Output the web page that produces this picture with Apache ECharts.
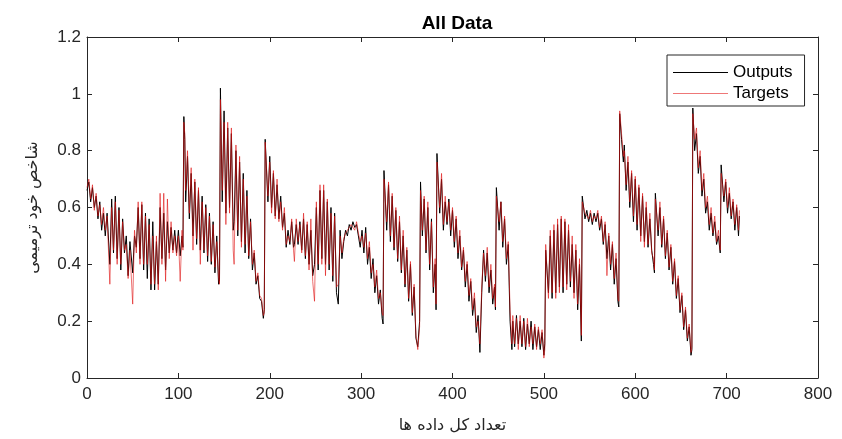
<!DOCTYPE html>
<html><head><meta charset="utf-8">
<script src="https://cdn.jsdelivr.net/npm/echarts@6/dist/echarts.min.js"></script>
<style>html,body{margin:0;padding:0;background:#fff}#c{width:842px;height:439px}</style>
</head><body><div id="c"></div>
<script>
// sample index (x) of each read point
const xs = [
 0,2,4,6,8,10,12,14,16,18, 20,22,25,27,29,31,33,35,37,39, 41,43,45,47,50,52,54,56,58,60, 62,64,66,68,70,72,74,76,78,80, 82,84,86,88,90,92,94,96,98,100, 102,104,105,
 106,107,108,110,112,114,116,118,120,122, 124,126,128,130,132,134,136,138,140,142, 144,145,
 146,148,150,152,154,156,158,160,161,163, 165,167,169,171,173,175,177,179,181,183, 185,187,189,191,193,194,
 195,198,200,202,204,206,208,210,212,214, 216,218,220,222,224,226,227,229,231,233, 235,237,239,241,243,245,247,249,251,253, 255,257,259,261,263,265,267,269,271,273, 275,277,279,
 281,283,285,287,289,291,293,295,297,299, 301,303,305,307,309,311,313,315,317,319, 321,323,324,
 325,328,330,332,334,336,338,340,342,344, 346,348,350,352,354,356,358,360,362,364,
 365,367,369,371,373,375,377,379,381,382,
 383,386,388,390,392,394,396,398,400,402, 404,406,408,410,412,414,416,418,420,422, 424,426,428,430,432,434,436,438,440,442, 444,446,447,
 448,451,453,455,457,459,461,463,465,466, 468,470,472,474,476,478,480,482,484,486, 488,490,492,494,496,498,500,501,
 502,505,507,509,511,513,515,517,519,521, 523,525,527,529,531,533,535,537,539,541,
 542,545,547,549,551,553,555,557,559,561, 563,565,567,569,571,573,575,577,579,581, 582,
 583,585,587,588,590,592,594,596,598,600, 602,604,606,608,610,612,614,616,618,620, 621,
 622,625,627,629,631,633,635,637,639,641, 643,645,647,649,651,653,655,657,659,661, 662,
 663,665,667,669,671,673,675,677,679,681, 683,685,687,689,691,693,
 694,697,699,701,703,705,707,709,711,713, 714
];
const outputs = [
 .66,.69,.62,.67,.60,.64,.56,.62,.52,.58, .50,.58,.40,.63,.44,.64,.42,.60,.38,.56, .44,.50,.36,.48,.37,.50,.46,.60,.42,.61, .38,.58,.35,.56,.31,.55,.31,.48,.33,.60, .42,.58,.38,.55,.44,.53,.45,.52,.44,.52, .43,.50,.46,
 .92,.84,.62,.78,.56,.72,.50,.69,.47,.66, .45,.64,.44,.61,.41,.58,.40,.55,.37,.50, .33,.34,
 1.02,.62,.94,.58,.88,.60,.86,.52,.55,.80, .50,.76,.48,.72,.44,.66,.42,.56,.38,.44, .33,.36,.28,.27,.21,.24,
 .84,.62,.78,.60,.72,.57,.68,.56,.64,.53, .58,.46,.52,.47,.55,.46,.47,.54,.47,.55, .45,.56,.42,.54,.40,.52,.36,.40,.60,.38, .66,.42,.66,.40,.62,.38,.60,.34,.58,.30, .26,.52,.42,
 .48,.52,.50,.54,.52,.55,.53,.54,.50,.46, .52,.44,.53,.40,.46,.35,.42,.30,.36,.26, .31,.21,.19,
 .73,.52,.68,.48,.64,.45,.59,.41,.55,.37, .50,.32,.45,.27,.40,.22,.32,.14,.11,.20,
 .69,.50,.63,.44,.60,.38,.56,.30,.40,.24,
 .79,.58,.70,.52,.62,.54,.63,.50,.59,.46, .56,.42,.50,.38,.45,.32,.40,.27,.34,.22, .28,.16,.22,.09,.30,.45,.34,.44,.30,.38, .26,.32,.24,
 .67,.52,.62,.46,.56,.40,.47,.20,.10,.20, .11,.22,.12,.20,.11,.21,.10,.19,.12,.20, .10,.18,.11,.17,.10,.16,.08,.12,
 .45,.30,.50,.28,.52,.30,.54,.32,.56,.30, .55,.33,.52,.32,.47,.30,.45,.24,.40,.13,
 .64,.56,.59,.55,.58,.54,.58,.55,.58,.52, .56,.47,.54,.42,.50,.38,.47,.33,.42,.27, .25,
 .93,.84,.76,.82,.66,.76,.60,.72,.55,.70, .52,.67,.50,.64,.48,.60,.46,.56,.45,.40, .37,
 .65,.50,.60,.46,.56,.42,.51,.38,.46,.33, .41,.28,.35,.23,.29,.17,.24,.13,.18,.08, .10,
 .95,.80,.86,.72,.78,.64,.70,.58,.62,.52, .58,.50,.55,.47,.50,.44,
 .75,.62,.69,.58,.65,.56,.62,.52,.60,.50, .57
];
const targets = [
 .67,.70,.63,.68,.59,.65,.57,.61,.54,.60, .52,.57,.33,.60,.45,.62,.40,.59,.40,.55, .45,.47,.35,.45,.26,.52,.44,.62,.40,.62, .40,.57,.40,.54,.33,.50,.33,.50,.31,.65, .40,.65,.34,.63,.42,.55,.44,.50,.43,.50, .34,.52,.45,
 .90,.86,.66,.80,.58,.74,.45,.70,.49,.67, .40,.62,.45,.60,.43,.57,.41,.54,.39,.48, .35,.33,
 .98,.66,.90,.54,.90,.58,.88,.45,.40,.82, .52,.78,.46,.70,.47,.64,.43,.55,.40,.45, .34,.37,.29,.28,.22,.23,
 .83,.64,.76,.58,.73,.56,.70,.55,.62,.52, .60,.47,.50,.48,.56,.45,.41,.56,.48,.54, .44,.58,.43,.55,.38,.56,.34,.27,.62,.40, .68,.40,.68,.36,.63,.40,.58,.36,.57,.32, .33,.50,.44,
 .49,.51,.52,.53,.54,.54,.52,.55,.51,.48, .50,.46,.51,.42,.48,.37,.40,.32,.38,.28, .30,.23,.22,
 .70,.55,.69,.50,.65,.46,.60,.42,.57,.38, .52,.33,.46,.28,.41,.23,.33,.15,.10,.18,
 .66,.52,.64,.45,.62,.40,.55,.32,.42,.26,
 .76,.60,.72,.54,.64,.55,.62,.52,.60,.48, .57,.44,.52,.39,.46,.34,.41,.29,.35,.24, .30,.18,.20,.12,.32,.44,.36,.46,.32,.40, .28,.33,.25,
 .64,.55,.62,.48,.57,.42,.48,.24,.12,.22, .12,.21,.10,.22,.12,.20,.11,.21,.11,.18, .12,.19,.10,.18,.12,.17,.07,.10,
 .47,.28,.52,.30,.54,.28,.56,.30,.57,.32, .56,.31,.54,.34,.50,.28,.47,.26,.42,.15,
 .62,.58,.57,.56,.59,.55,.57,.56,.59,.53, .57,.48,.55,.36,.51,.40,.48,.35,.44,.28, .27,
 .94,.86,.78,.80,.68,.78,.62,.73,.57,.71, .54,.68,.48,.65,.46,.62,.47,.58,.44,.42, .38,
 .63,.52,.62,.47,.57,.43,.52,.39,.47,.34, .42,.29,.36,.24,.30,.18,.25,.14,.19,.09, .11,
 .93,.84,.88,.74,.80,.66,.72,.60,.64,.54, .60,.51,.57,.48,.52,.45,
 .72,.64,.70,.60,.67,.57,.63,.54,.61,.52, .59
];
const xTicks = [0,100,200,300,400,500,600,700,800];
const yTicks = [0,0.2,0.4,0.6,0.8,1,1.2];
const seriesNames = ['Outputs','Targets'];

const FONT = '"Liberation Sans", Arial, "DejaVu Sans", sans-serif';
const AX = '#262626';
const outData = xs.map((x,i)=>[x, outputs[i]]);
const tgtData = xs.map((x,i)=>[x, targets[i]]);

const chart = echarts.init(document.getElementById('c'), null, {renderer:'canvas'});
const baseX = {type:'value', min:xTicks[0], max:xTicks[xTicks.length-1], interval:100,
  splitLine:{show:false}, axisLine:{show:true, onZero:false, lineStyle:{color:AX,width:1}},
  axisTick:{show:true, inside:true, length:5, lineStyle:{color:AX}}};
const baseY = {type:'value', min:yTicks[0], max:yTicks[yTicks.length-1], interval:0.2,
  splitLine:{show:false}, axisLine:{show:true, onZero:false, lineStyle:{color:AX,width:1}},
  axisTick:{show:true, inside:true, length:5, lineStyle:{color:AX}}};
chart.setOption({
  animation:false,
  backgroundColor:'#fff',
  title:{text:'All Data', left:452, top:9, textAlign:'center',
    textStyle:{fontFamily:FONT, fontSize:19, fontWeight:'bold', color:'#000'}},
  grid:{left:87, right:24, top:37, bottom:61, containLabel:false},
  legend:{data:[
      {name:seriesNames[0], icon:'rect', itemStyle:{color:'#000'}},
      {name:seriesNames[1], icon:'rect', itemStyle:{color:'#ee7777'}}],
    orient:'vertical', left:667, top:55, itemWidth:55, itemHeight:1.2, itemGap:4,
    padding:[9,12,4,6], borderColor:AX, borderWidth:1, backgroundColor:'#fff',
    textStyle:{fontFamily:FONT, fontSize:17, color:'#000', padding:[0,0,0,0]}},
  xAxis:[
    Object.assign({}, baseX, {position:'bottom',
      axisLabel:{color:AX, fontFamily:FONT, fontSize:17, margin:8},
      name:'تعداد کل داده ها', nameLocation:'middle', nameGap:40,
      nameTextStyle:{fontFamily:'"DejaVu Sans", sans-serif', fontSize:16, color:AX}}),
    Object.assign({}, baseX, {position:'top', axisLabel:{show:false}})
  ],
  yAxis:[
    Object.assign({}, baseY, {position:'left',
      axisLabel:{color:AX, fontFamily:FONT, fontSize:17, margin:6,
        formatter:v=>String(Math.round(v*10)/10)},
      name:'شاخص خود ترمیمی', nameLocation:'middle', nameGap:46, nameRotate:90,
      nameTextStyle:{fontFamily:'"DejaVu Sans", sans-serif', fontSize:16, color:AX}}),
    Object.assign({}, baseY, {position:'right', axisLabel:{show:false}})
  ],
  series:[
    {name:seriesNames[0], type:'line', data:outData, showSymbol:false, symbol:'none',
      lineStyle:{color:'#000', width:1}, itemStyle:{color:'#000'}, z:2},
    {name:seriesNames[1], type:'line', data:tgtData, showSymbol:false, symbol:'none',
      lineStyle:{color:'#e01010', width:1, opacity:0.6}, itemStyle:{color:'#ee7777'}, z:3}
  ]
});
</script></body></html>
